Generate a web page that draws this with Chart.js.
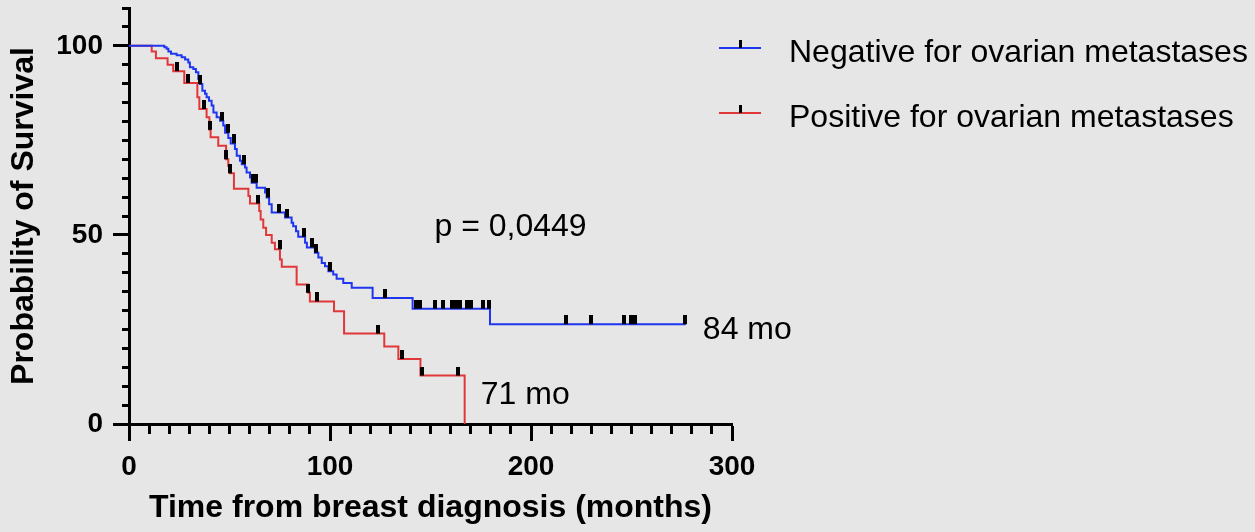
<!DOCTYPE html>
<html>
<head>
<meta charset="utf-8">
<script src="https://cdn.jsdelivr.net/npm/chart.js@4.4.1/dist/chart.umd.min.js"></script>
<style>
  html, body { margin: 0; padding: 0; background: #e6e6e6; }
  #wrap { width: 1255px; height: 532px; position: relative; }
</style>
</head>
<body>
<div id="wrap"><canvas id="km"></canvas></div>
<script>
// Negative for ovarian metastases: step times (months) and survival (%) after each step
const negTimes = [0, 17.6, 18.7, 19.6, 20.9, 23.7, 26.2, 27.9, 29.5, 30.3, 32, 33.3, 34.5, 35.3, 36.5, 37.8,
  38.6, 39.8, 41.1, 42, 43.6, 45.3, 46.9, 47.8, 49.4, 50.6, 52.7, 53.6, 55.2, 56.1, 57.7, 58.5, 60.2, 61,
  63.5, 67.7, 68.5, 69.7, 71, 77.6, 80.9, 81.7, 83.1, 84.2, 87.6, 88.5, 92.5, 94.2, 95.9, 97.5, 99.2,
  101.6, 103.3, 106.6, 110.8, 121.2, 141.1, 179.6, 277];
const negSurv = [100, 99.6, 99.2, 98.5, 97.9, 97.5, 97, 96.4, 95.6, 94.3, 93.9, 93, 91.2, 89.9, 88.1, 87.3,
  86.4, 85.5, 84.2, 82.4, 81.1, 80.2, 78.9, 77, 75.6, 74.2, 72.7, 70.9, 69.6, 68.7, 67.8, 66.5, 65.2,
  63.8, 62.5, 61.2, 59.9, 58.1, 55.9, 54.6, 53.2, 52.3, 51, 49.5, 47.9, 46.7, 45.3, 44, 42.6, 41.7,
  40.4, 39.5, 38.4, 37.3, 36, 33.3, 30.5, 26.4, 26.4];
const negCensored = [35.5, 46.4, 49.2, 52.2, 57.4, 61.8, 63, 69, 74.6, 78.5, 87.2, 90.8, 93, 100, 127.4,
  143, 145, 152, 156, 160.5, 162.5, 164.5, 168, 170, 176, 179, 217.4, 229.7, 246.4, 249.8, 251.7, 276.6];

// Positive for ovarian metastases
const posTimes = [0, 11.3, 13.4, 19.2, 22, 27.5, 34, 35, 38.6, 40, 40.6, 44.4, 48.3, 49.4, 50.2, 52.2,
  59.4, 60.2, 64.8, 65.5, 66.8, 68.2, 71, 72.6, 75.1, 76, 83.4, 89.2, 90, 102, 107, 127, 134, 145, 167];
const posSurv = [100, 98.5, 96.7, 95, 93.3, 90.2, 86.4, 83.3, 81.1, 77.8, 75.8, 73.6, 70, 68.2, 66.3, 62.2,
  60.3, 58.3, 56.3, 54.1, 51.9, 50, 47.9, 46.2, 43.5, 41.6, 36.9, 34.7, 32.4, 29.8, 23.9, 20.5, 17.2, 12.8, 0];
const posCensored = [23.7, 29.5, 37.5, 40.3, 48.3, 50.2, 64.3, 75, 89.2, 93.7, 124, 136, 146, 163.8];

const groupNames = ['Negative for ovarian metastases', 'Positive for ovarian metastases'];
const xTickValues = [0, 100, 200, 300];
const yTickValues = [0, 50, 100];

const blue = '#1f36f0';
const red = '#e2373a';

Chart.defaults.font.family = '"Liberation Sans", Arial, sans-serif';
Chart.defaults.color = '#000';

// valor de la curva en el tiempo t
function survivalAt(times, surv, t) {
  let v = surv[0];
  for (let i = 0; i < times.length; i++) {
    if (times[i] <= t) v = surv[i];
  }
  return v;
}

// marca de censura: barra negra que sube desde la curva
const tick = document.createElement('canvas');
tick.width = 4;
tick.height = 18;
const tctx = tick.getContext('2d');
tctx.fillStyle = '#000';
tctx.fillRect(0, 0, 4, 9);

const curve = (times, surv) => times.map((t, i) => ({ x: t, y: surv[i] }));
const marks = (cens, times, surv) => cens.map(t => ({ x: t, y: survivalAt(times, surv, t) }));

const annotations = [
  { text: 'p = 0,0449', x: 152, y: 49.6 },
  { text: '84 mo', x: 285.5, y: 22.5 },
  { text: '71 mo', x: 175, y: 5.3 }
];

const textPlugin = {
  id: 'kmText',
  afterDraw(chart) {
    const { ctx, scales } = chart;
    ctx.save();
    ctx.font = '32px "Liberation Sans", Arial, sans-serif';
    ctx.fillStyle = '#000';
    ctx.textBaseline = 'alphabetic';
    annotations.forEach(a => {
      ctx.fillText(a.text, scales.x.getPixelForValue(a.x), scales.y.getPixelForValue(a.y));
    });

    // leyenda
    const colors = [blue, red];
    const rows = [48, 113];
    groupNames.forEach((name, i) => {
      const y = rows[i];
      ctx.strokeStyle = colors[i];
      ctx.lineWidth = 2;
      ctx.beginPath();
      ctx.moveTo(719, y);
      ctx.lineTo(761, y);
      ctx.stroke();
      ctx.fillStyle = '#000';
      ctx.fillRect(739, y - 8, 3, 8);
      ctx.fillText(name, 789, y + 14);
    });
    ctx.restore();
  }
};

const axisLine = { display: true, color: '#000', width: 3 };
const noPad = s => { s.paddingTop = 0; s.paddingBottom = 0; s.paddingLeft = 0; s.paddingRight = 0; };

new Chart(document.getElementById('km'), {
  type: 'line',
  data: {
    datasets: [
      {
        data: marks(negCensored, negTimes, negSurv),
        showLine: false,
        pointStyle: tick,
        pointRadius: 4,
        order: 0
      },
      {
        data: marks(posCensored, posTimes, posSurv),
        showLine: false,
        pointStyle: tick,
        pointRadius: 4,
        order: 0
      },
      {
        label: groupNames[0],
        data: curve(negTimes, negSurv),
        borderColor: blue,
        borderWidth: 2,
        stepped: 'before',
        pointRadius: 0,
        fill: false,
        order: 1
      },
      {
        label: groupNames[1],
        data: curve(posTimes, posSurv),
        borderColor: red,
        borderWidth: 2,
        stepped: 'before',
        pointRadius: 0,
        fill: false,
        order: 2
      }
    ]
  },
  options: {
    responsive: true,
    maintainAspectRatio: false,
    animation: false,
    events: [],
    layout: {
      autoPadding: false,
      padding: { top: 8, right: 523, left: 0, bottom: 0 }
    },
    plugins: {
      legend: { display: false },
      tooltip: { enabled: false }
    },
    scales: {
      xMinor: {
        type: 'linear',
        position: 'bottom',
        weight: 0,
        min: 0,
        max: 300,
        ticks: { stepSize: 10, display: false },
        grid: { drawOnChartArea: false, tickLength: 10, tickWidth: 3, tickColor: '#000' },
        border: axisLine,
        afterFit(s) { s.height = 0; noPad(s); }
      },
      x: {
        type: 'linear',
        position: 'bottom',
        weight: 1,
        min: 0,
        max: 300,
        afterBuildTicks(s) { s.ticks = xTickValues.map(v => ({ value: v })); },
        ticks: { font: { size: 28, weight: 'bold' }, padding: 9, maxRotation: 0, autoSkip: false },
        grid: { drawOnChartArea: false, tickLength: 17, tickWidth: 3, tickColor: '#000' },
        border: axisLine,
        title: {
          display: true,
          text: 'Time from breast diagnosis (months)',
          font: { size: 32, weight: 'bold' },
          padding: { top: 0, bottom: 5 }
        },
        afterFit(s) { s.height = 108; noPad(s); }
      },
      yMinor: {
        type: 'linear',
        position: 'left',
        weight: 0,
        min: 0,
        max: 110,
        ticks: { stepSize: 5, display: false },
        grid: { drawOnChartArea: false, tickLength: 7, tickWidth: 3, tickColor: '#000' },
        border: axisLine,
        afterFit(s) { s.width = 0; noPad(s); }
      },
      y: {
        type: 'linear',
        position: 'left',
        weight: 1,
        min: 0,
        max: 110,
        afterBuildTicks(s) { s.ticks = yTickValues.map(v => ({ value: v })); },
        ticks: { font: { size: 28, weight: 'bold' }, padding: 10, autoSkip: false },
        grid: { drawOnChartArea: false, tickLength: 16, tickWidth: 3, tickColor: '#000' },
        border: axisLine,
        title: {
          display: true,
          text: 'Probability of Survival',
          font: { size: 32, weight: 'bold' },
          padding: { top: 5, bottom: 0 }
        },
        afterFit(s) { s.width = 129; noPad(s); }
      }
    }
  },
  plugins: [textPlugin]
});
</script>
</body>
</html>
